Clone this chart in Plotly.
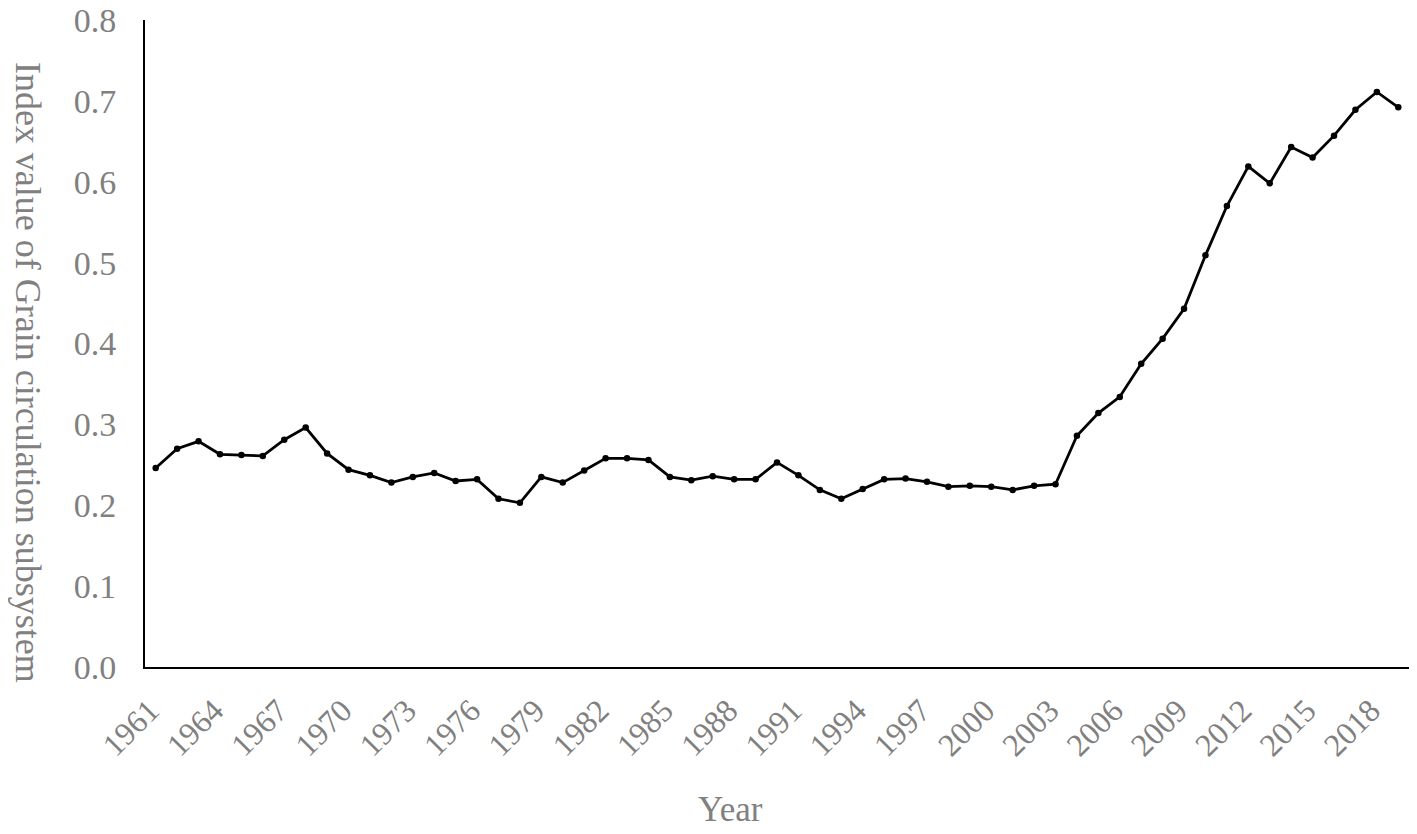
import plotly.graph_objects as go

years = list(range(1961, 2020))
index_values = [
    0.246, 0.270, 0.279, 0.263, 0.262, 0.261, 0.281, 0.296, 0.264, 0.244,
    0.237, 0.228, 0.235, 0.240, 0.230, 0.232, 0.208, 0.203, 0.235, 0.228,
    0.243, 0.258, 0.258, 0.256, 0.235, 0.231, 0.236, 0.232, 0.232, 0.253,
    0.237, 0.219, 0.208, 0.220, 0.232, 0.233, 0.229, 0.223, 0.224, 0.223,
    0.219, 0.224, 0.226, 0.286, 0.314, 0.334, 0.375, 0.406, 0.443, 0.509,
    0.570, 0.619, 0.598, 0.643, 0.630, 0.657, 0.689, 0.711, 0.692,
]
tick_years = list(range(1961, 2020, 3))
y_ticks = [0.0, 0.1, 0.2, 0.3, 0.4, 0.5, 0.6, 0.7, 0.8]
y_tick_text = [f"{v:.1f}" for v in y_ticks]

font_family = "Liberation Serif, Times New Roman, serif"
gray = "#808080"

fig = go.Figure()
fig.add_trace(go.Scatter(
    x=years, y=index_values, mode="lines+markers",
    line=dict(color="black", width=2.8),
    marker=dict(color="black", size=6.5),
    showlegend=False, cliponaxis=False,
))

# page has an 8px body margin; figure is sized to fit inside it
fig.update_layout(
    width=1401, height=818,
    margin=dict(l=137, r=0, t=12, b=159),
    paper_bgcolor="white", plot_bgcolor="white",
    font=dict(family=font_family, color=gray, size=34),
    xaxis=dict(
        range=[1960.5, 2019.5], tickmode="array", tickvals=tick_years,
        ticktext=[str(y) for y in tick_years], tickangle=-45,
        showgrid=False, zeroline=False, showline=True, linecolor="black",
        linewidth=2, ticks="", tickfont=dict(size=32, color=gray),
        automargin=False, ticklabelstandoff=10, ticklabelshift=-6,
        ticklabeloverflow="allow",
    ),
    yaxis=dict(
        range=[0, 0.8], tickmode="array", tickvals=y_ticks, ticktext=y_tick_text,
        showgrid=False, zeroline=False, showline=True, linecolor="black",
        linewidth=2, ticks="", tickfont=dict(size=34, color=gray),
        ticklabelstandoff=20, automargin=False, ticklabeloverflow="allow",
    ),
    annotations=[
        dict(text="Year", xref="paper", yref="paper", x=0.463, y=-0.220,
             showarrow=False, font=dict(size=35, color=gray), xanchor="center", yanchor="middle"),
        dict(text="Index value of Grain circulation subsystem", xref="paper", yref="paper",
             x=-0.0925, y=0.456, textangle=90, showarrow=False,
             font=dict(size=36, color=gray), xanchor="center", yanchor="middle"),
    ],
)

fig.write_html("out.html")
